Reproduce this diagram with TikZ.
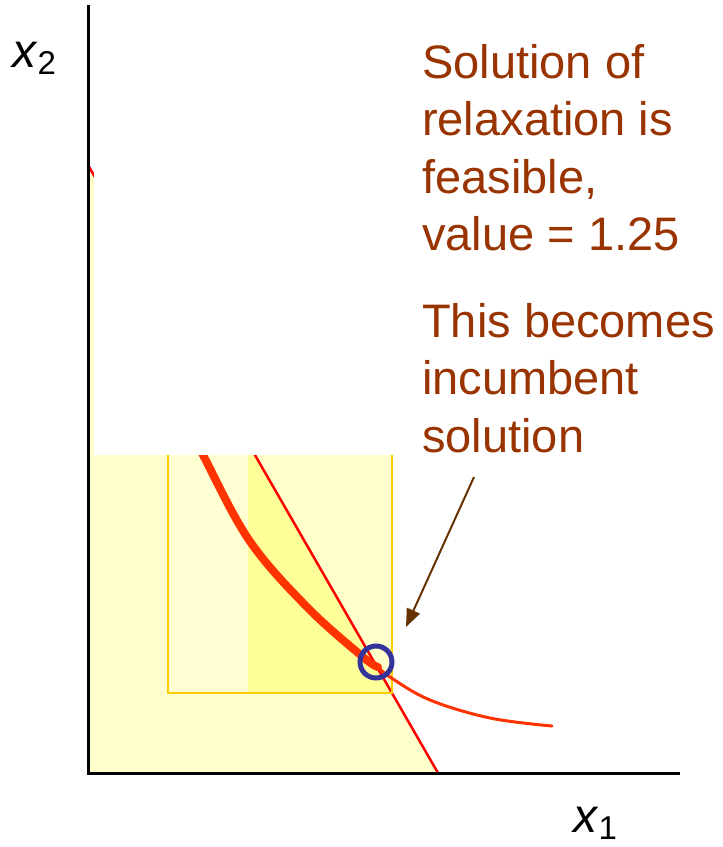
\documentclass[tikz,border=0pt]{standalone}
\usepackage{fontspec}
\setmainfont{Liberation Sans}
\usetikzlibrary{arrows.meta}
\definecolor{feaslight}{HTML}{FFFFCC}
\definecolor{boxinner}{HTML}{FFFFD3}
\definecolor{subbright}{HTML}{FFFF99}
\definecolor{boxgold}{HTML}{FFCC00}
\definecolor{objred}{HTML}{FF3300}
\definecolor{pointblue}{HTML}{333399}
\definecolor{notebrown}{HTML}{993300}
\definecolor{arrowbrown}{HTML}{663300}
\tikzset{
  axisline/.style={line width=3pt,black},
  constraint/.style={line width=2.5pt,red},
  objective/.style={objred,line cap=round},
  notetext/.style={notebrown,align=left,inner sep=0pt,anchor=north west,
    font=\fontsize{47}{57.5}\selectfont},
  varlab/.style={inner sep=0pt,anchor=base west,font=\fontsize{48}{48}\selectfont}
}
\newcommand\xvar[1]{\textit{x}\raisebox{-7pt}{\fontsize{33}{33}\selectfont #1}}
\begin{document}
\begin{tikzpicture}[x=1pt,y=-1pt]
\useasboundingbox (0,0) rectangle (723,847);
% feasible region of the relaxation and the branch box
\fill[feaslight] (88,165) -- (438,773) -- (88,773) -- cycle;
\fill[feaslight] (168,455) rectangle (392,693);
\fill[boxinner] (170,455) rectangle (248,692);
\fill[subbright] (248,455) -- (255,455) -- (392,693) -- (248,693) -- cycle;
\draw[constraint] (88,165) -- (438,773);
% cut off upper part
\fill[white] (93.5,0) rectangle (723,455);
\draw[boxgold,line width=2pt] (168,455) -- (168,693) -- (392,693) -- (392,455);
% objective contour
\begin{scope}
  \clip (88,455) rectangle (723,773);
  \draw[objective,line width=8pt] plot[smooth,tension=0.6] coordinates
    {(196,443) (203,455) (249,540) (307,607) (363,657) (378,667)};
\end{scope}
\draw[objective,line width=3pt] plot[smooth,tension=0.6] coordinates
  {(376,665) (390,677) (430,700) (490,718) (552,726)};
% axes
\coordinate (origin) at (88,773);
\coordinate (x1end) at (680,773);
\coordinate (x2end) at (88,5);
\draw[axisline] (x2end) -- (origin) -- (x1end);
\node[varlab] (x2lab) at (12,67) {\xvar{2}};
\node[varlab] (x1lab) at (573,832) {\xvar{1}};
% incumbent point
\node[draw=pointblue,line width=5pt,circle,minimum size=32pt,inner sep=0pt]
  (incumbent) at (376,662) {};
% notes
\node[notetext] (note1) at (422,44)
  {Solution of\\relaxation is\\feasible,\\value = 1.25};
\node[notetext] (note2) at (422,303)
  {This becomes\\incumbent\\solution};
\coordinate (arrstart) at (474,477);
\coordinate (arrtip) at (406,627);
\draw[arrowbrown,line width=2pt,-{Triangle[length=18pt,width=14pt]}]
  (arrstart) -- (arrtip);
\end{tikzpicture}
\end{document}
